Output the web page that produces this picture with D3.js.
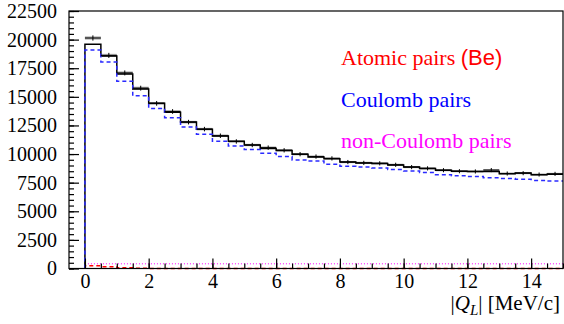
<!DOCTYPE html>
<head>
  <meta charset="utf-8">
  <script src="https://d3js.org/d3.v7.min.js"></script>
  <style>
    body { margin: 0; background: #fff; }
    .axis path { display: none; }
    .axis line { stroke: #000; stroke-width: 1.2px; }
    .axis text { font-family: "Liberation Serif", serif; font-size: 20px; fill: #000; }
    .legend { font-family: "Liberation Serif", serif; font-size: 22px; }
  </style>
</head>
<body>
  <svg id="chart" width="564" height="324"></svg>
  <script>
    // bin lower edges, |Q_L| in MeV/c
    var qBins = [0, 0.5, 1, 1.5, 2, 2.5, 3, 3.5, 4, 4.5, 5, 5.5, 6, 6.5, 7,
      7.5, 8, 8.5, 9, 9.5, 10, 10.5, 11, 11.5, 12, 12.5, 13, 13.5, 14, 14.5];
    var binWidth = 0.5;

    var dataPts = [20140, 18620, 17090, 15760, 14430, 13720, 12790, 12180, 11600, 11100,
      10790, 10560, 10330, 9990, 9780, 9620, 9300, 9230, 9190, 9060,
      8860, 8750, 8590, 8500, 8480, 8600, 8300, 8330, 8210, 8270];
    var dataErr = [140, 136, 130, 125, 120, 117, 113, 110, 108, 105,
      104, 102, 102, 100, 99, 98, 96, 96, 96, 95,
      94, 94, 93, 92, 92, 92, 91, 91, 91, 91];
    var fitTotal = [19590, 18560, 17000, 15690, 14450, 13660, 12800, 12170, 11580, 11120,
      10800, 10480, 10310, 9980, 9740, 9600, 9310, 9220, 9170, 9040,
      8870, 8730, 8580, 8490, 8470, 8470, 8290, 8340, 8200, 8230];
    var coulomb = [19090, 18050, 16370, 15090, 13990, 13180, 12370, 11730, 11120, 10710,
      10390, 10070, 9780, 9490, 9390, 9110, 8930, 8870, 8780, 8640,
      8520, 8380, 8200, 8100, 8030, 7920, 7860, 7790, 7700, 7640];
    var atomic = [230, 160, 60, 25, 10, 5, 0, 0, 0, 0,
      0, 0, 0, 0, 0, 0, 0, 0, 0, 0,
      0, 0, 0, 0, 0, 0, 0, 0, 0, 0];
    var nonCoulomb = [410, 410, 410, 410, 410, 410, 410, 410, 410, 410,
      410, 410, 410, 410, 410, 410, 410, 410, 410, 410,
      410, 410, 410, 410, 410, 410, 410, 410, 410, 410];

    var xMajor = [0, 2, 4, 6, 8, 10, 12, 14];
    var yMajor = [0, 2500, 5000, 7500, 10000, 12500, 15000, 17500, 20000, 22500];

    var legendItems = [
      { label: "Atomic pairs ", extra: "(Be)", color: "#ff0000" },
      { label: "Coulomb pairs", extra: "", color: "#0000ff" },
      { label: "non-Coulomb pairs", extra: "", color: "#ff00ff" }
    ];

    var svg = d3.select("#chart");

    var x = d3.scaleLinear().domain([-0.5, 15]).range([69, 563]);
    var y = d3.scaleLinear().domain([0, 22500]).range([268.5, 11]);

    function stepPath(vals, closeLeft) {
      var p = d3.path();
      p.moveTo(x(qBins[0]), closeLeft ? y(0) : y(vals[0]));
      vals.forEach(function (v, i) {
        p.lineTo(x(qBins[i]), y(v));
        p.lineTo(x(qBins[i] + binWidth), y(v));
      });
      return p.toString();
    }

    // data error boxes (gray)
    svg.append("g").selectAll("rect")
      .data(dataPts)
      .join("rect")
      .attr("x", (d, i) => x(qBins[i]))
      .attr("width", (d, i) => x(qBins[i] + binWidth) - x(qBins[i]))
      .attr("y", (d, i) => y(d + dataErr[i]))
      .attr("height", (d, i) => y(d - dataErr[i]) - y(d + dataErr[i]))
      .attr("fill", "#aaaaaa");

    // non-Coulomb and atomic
    svg.append("path")
      .attr("d", stepPath(nonCoulomb, false))
      .attr("fill", "none")
      .attr("stroke", "#ff00ff")
      .attr("stroke-width", 1)
      .attr("stroke-dasharray", "1,2");

    svg.append("path")
      .attr("d", stepPath(atomic, true))
      .attr("fill", "none")
      .attr("stroke", "#ff0000")
      .attr("stroke-width", 1.5)
      .attr("stroke-dasharray", "4,3");

    // total fit
    svg.append("path")
      .attr("d", stepPath(fitTotal, true))
      .attr("fill", "none")
      .attr("stroke", "#000")
      .attr("stroke-width", 1.5);

    // coulomb
    svg.append("path")
      .attr("d", stepPath(coulomb, true))
      .attr("fill", "none")
      .attr("stroke", "#2a2aff")
      .attr("stroke-width", 1.5)
      .attr("stroke-dasharray", "4,3");

    // data points: horizontal bin bar + vertical error
    var pts = svg.append("g").attr("stroke", "#000").attr("stroke-width", 1);
    pts.selectAll(".hbar")
      .data(dataPts)
      .join("line")
      .attr("class", "hbar")
      .attr("x1", (d, i) => x(qBins[i]))
      .attr("x2", (d, i) => x(qBins[i] + binWidth))
      .attr("y1", d => y(d))
      .attr("y2", d => y(d));
    pts.selectAll(".vbar")
      .data(dataPts)
      .join("line")
      .attr("class", "vbar")
      .attr("x1", (d, i) => x(qBins[i] + binWidth / 2))
      .attr("x2", (d, i) => x(qBins[i] + binWidth / 2))
      .attr("y1", (d, i) => y(d + dataErr[i]) - 1)
      .attr("y2", (d, i) => y(d - dataErr[i]) + 1);

    // axes
    var yMinor = d3.range(0, 22501, 500);
    var xMinor = d3.range(0, 15.01, 0.5);

    svg.append("g")
      .attr("class", "axis")
      .attr("transform", "translate(" + x(-0.5) + ",0)")
      .call(d3.axisLeft(y).tickValues(yMinor).tickSize(-5).tickFormat(""));
    svg.append("g")
      .attr("class", "axis")
      .attr("transform", "translate(" + x(-0.5) + ",0)")
      .call(d3.axisLeft(y).tickValues(yMajor).tickSize(-10).tickPadding(12).tickFormat(d3.format("d")));

    svg.append("g")
      .attr("class", "axis")
      .attr("transform", "translate(0," + y(0) + ")")
      .call(d3.axisBottom(x).tickValues(xMinor).tickSize(-5).tickFormat(""));
    svg.append("g")
      .attr("class", "axis")
      .attr("transform", "translate(0," + y(0) + ")")
      .call(d3.axisBottom(x).tickValues(xMajor).tickSize(-10).tickPadding(5).tickFormat(d3.format("d")));

    // frame
    svg.append("rect")
      .attr("x", x(-0.5))
      .attr("y", y(22500))
      .attr("width", x(15) - x(-0.5))
      .attr("height", y(0) - y(22500))
      .attr("fill", "none")
      .attr("stroke", "#000")
      .attr("stroke-width", 1.2);

    // x title
    var title = svg.append("text")
      .attr("x", 560)
      .attr("y", 310)
      .attr("text-anchor", "end")
      .style("font-family", "Liberation Serif, serif")
      .style("font-size", "21px");
    title.append("tspan").text("|");
    title.append("tspan").style("font-style", "italic").text("Q");
    title.append("tspan").style("font-style", "italic").style("font-size", "15px").attr("dy", 5).text("L");
    title.append("tspan").attr("dy", -5).text("| [MeV/c]");

    // legend
    var leg = svg.append("g").attr("class", "legend");
    legendItems.forEach(function (d, i) {
      var t = leg.append("text")
        .attr("x", 341)
        .attr("y", 65 + i * 41.5)
        .attr("fill", d.color)
        .text(d.label);
      if (d.extra) {
        t.append("tspan").style("font-family", "Liberation Sans, sans-serif").text(d.extra);
      }
    });
  </script>
</body>
